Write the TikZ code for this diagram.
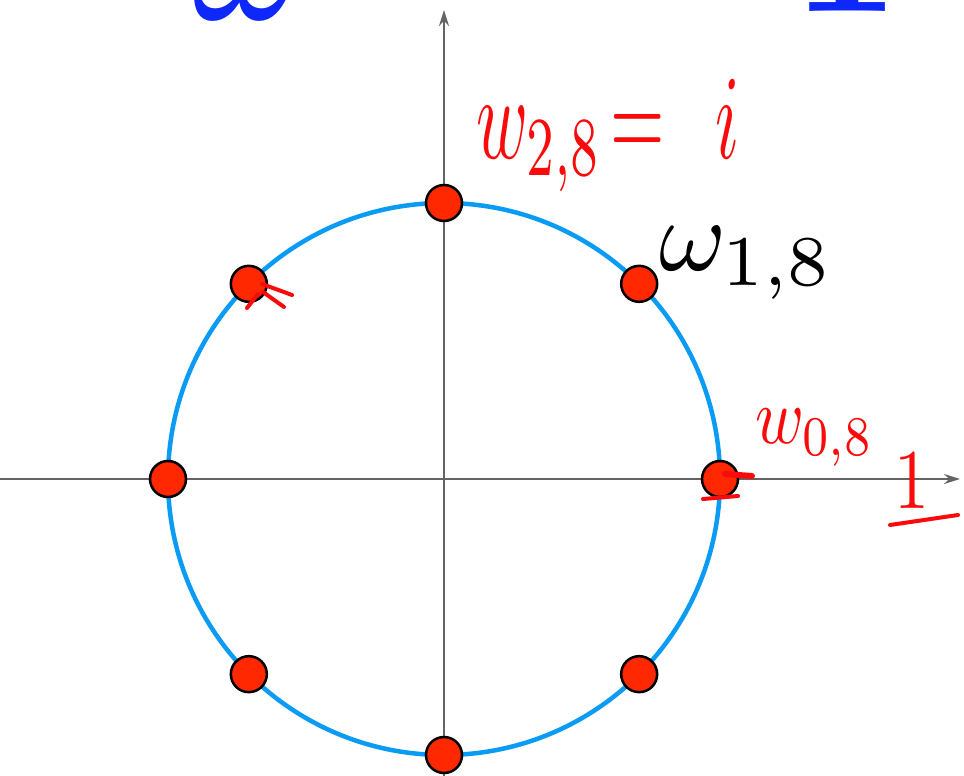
\documentclass[tikz,border=0pt]{standalone}
\usetikzlibrary{arrows.meta,calc}
\definecolor{circblue}{RGB}{10,155,245}
\definecolor{dotred}{RGB}{255,40,0}
\definecolor{handred}{RGB}{250,10,10}
\definecolor{topblue}{RGB}{15,40,250}
\definecolor{axisgray}{RGB}{100,100,100}
\begin{document}
\begin{tikzpicture}[x=1pt,y=-1pt,
  axis/.style={draw=axisgray,line width=2pt,-{Stealth[length=16pt,width=10pt]}},
  root/.style={circle,draw=black,line width=2.5pt,fill=dotred,minimum size=36pt,inner sep=0pt},
  hand/.style={draw=handred,line width=4pt,line cap=round,line join=round},
  handtext/.style={text=handred,inner sep=0pt}]
\useasboundingbox (0,0) rectangle (964,776);
\clip (0,0) rectangle (964,776);
\fill[white] (0,0) rectangle (964,776);
% cropped blue text at top
\node[anchor=base west,inner sep=0pt,text=topblue] (tw) at (192,20) {\scalebox{17.5}{$\omega$}};
\node[anchor=base,inner sep=0pt,text=topblue] (tone) at (846,12) {\scalebox{19}{$\mathbf{1}$}};
% axes
\coordinate (xl) at (0,479);
\coordinate (xr) at (960,479);
\coordinate (yb) at (444,776);
\coordinate (yt) at (444,10);
\draw[axis] (xl) -- (xr);
\draw[axis] (yb) -- (yt);
% circle
\coordinate (o) at (444,479);
\draw[circblue,line width=4.5pt] (o) circle[radius=276];
% roots
\foreach \k in {0,...,7}{
  \node[root] (r\k) at ($(o)+(\k*45:276)$) {};
}
% labels
\node[anchor=base west,inner sep=0pt] (l1) at (659,270) {\scalebox{10.2}{$\omega_{1,8}$}};
\node[handtext,anchor=base west] (l2) at (476,158) {\scalebox{7}[12]{$w_{2,8}\!=\;\, i$}};
\node[handtext,anchor=base west] (l0) at (755,443) {\scalebox{6.6}[8]{$w_{0,8}$}};
\node[handtext,anchor=base] (lone) at (912,508) {\scalebox{7}[8.5]{$1$}};
% handwritten strokes
\draw[hand] (890,525) -- (958,515);
\draw[hand] (703,499) -- (738,496);
\draw[hand,line width=6pt] (725,474) -- (752,476);
\draw[hand] (262,284) -- (292,295);
\draw[hand] (263,292) -- (284,307);
\draw[hand] (258,294) -- (247,308);
\end{tikzpicture}
\end{document}
